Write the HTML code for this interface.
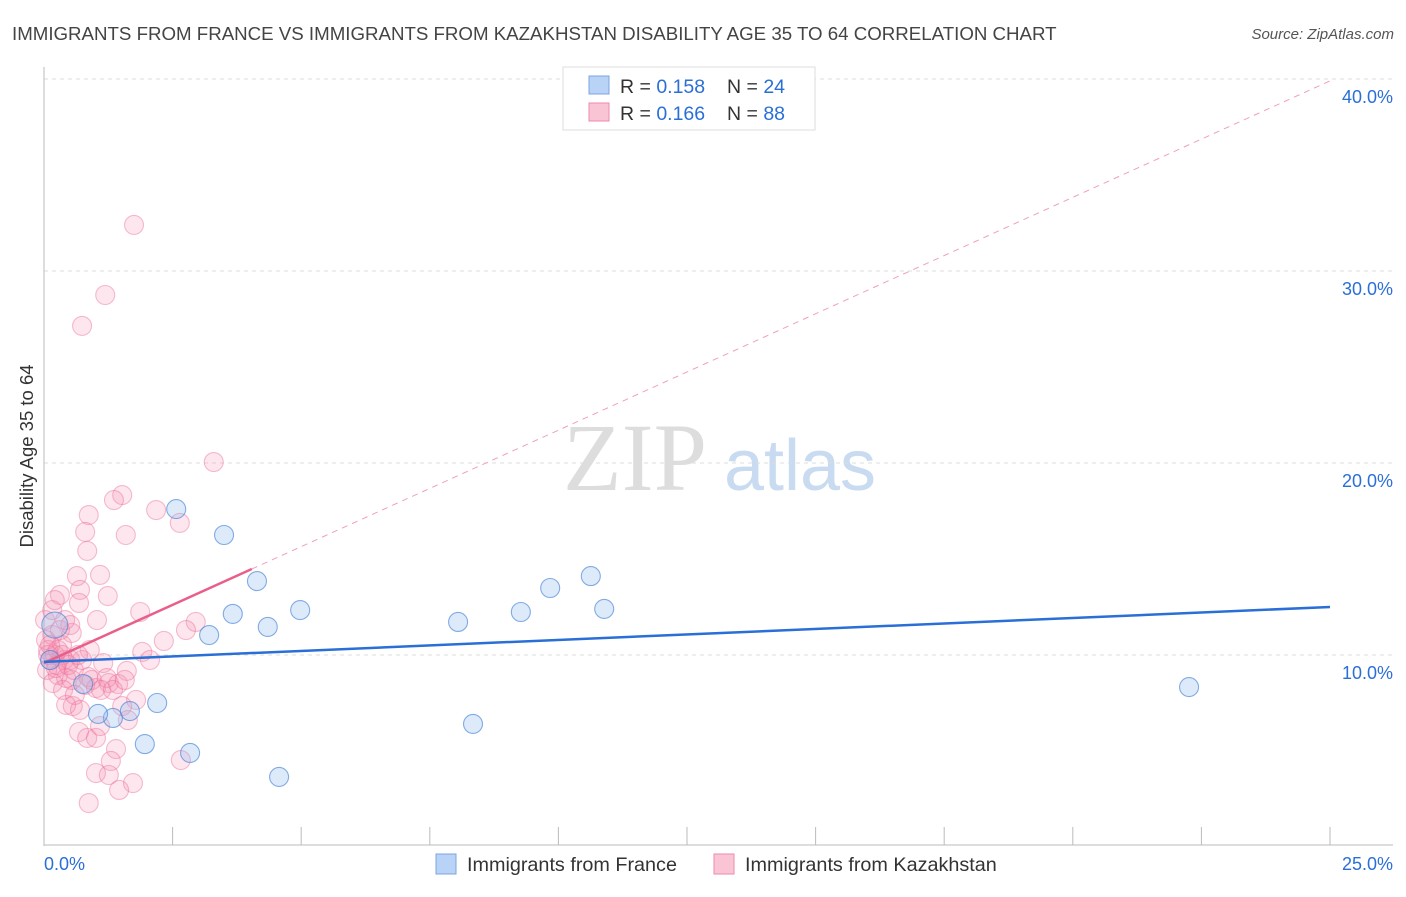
<!DOCTYPE html>
<html><head><meta charset="utf-8"><style>
body{margin:0;background:#fff;font-family:"Liberation Sans",sans-serif}
</style></head><body>
<svg id="chart" width="1406" height="892" xmlns="http://www.w3.org/2000/svg" style="font-family:'Liberation Sans',sans-serif">
<text x="12" y="40" font-size="18.7" fill="#444">IMMIGRANTS FROM FRANCE VS IMMIGRANTS FROM KAZAKHSTAN DISABILITY AGE 35 TO 64 CORRELATION CHART</text>
<text x="1394" y="39" font-size="15" fill="#555" font-style="italic" text-anchor="end">Source: ZipAtlas.com</text>
<g>
<text x="635" y="490" font-size="96" fill="#ddd" font-family="Liberation Serif" text-anchor="middle">ZIP</text>
<text x="800" y="490" font-size="72" fill="#c9dbf0" text-anchor="middle">atlas</text>
</g>
<g id="grid"></g>
<g id="axes"></g>
<g id="marks"></g>
<text transform="translate(33,456) rotate(-90)" font-size="18.5" fill="#333" text-anchor="middle">Disability Age 35 to 64</text>
<g>
<rect x="563" y="67" width="252" height="63" fill="#fff" stroke="#ddd"/>
<rect x="589" y="76" width="20" height="18" fill="#b8d3f5" stroke="#7aa6e0"/>
<rect x="589" y="103" width="20" height="18" fill="#f9c4d4" stroke="#ee8aab"/>
<text x="620" y="93" font-size="19.5" fill="#333">R = <tspan fill="#2a6fd6">0.158</tspan></text>
<text x="727" y="93" font-size="19.5" fill="#333">N = <tspan fill="#2a6fd6">24</tspan></text>
<text x="620" y="120" font-size="19.5" fill="#333">R = <tspan fill="#2a6fd6">0.166</tspan></text>
<text x="727" y="120" font-size="19.5" fill="#333">N = <tspan fill="#2a6fd6">88</tspan></text>
</g>
<g>
<rect x="436" y="854" width="20" height="20" fill="#b8d3f5" stroke="#7aa6e0"/>
<text x="467" y="871" font-size="19.8" fill="#333">Immigrants from France</text>
<rect x="714" y="854" width="20" height="20" fill="#f9c4d4" stroke="#ee8aab"/>
<text x="745" y="871" font-size="19.8" fill="#333">Immigrants from Kazakhstan</text>
</g>
</svg>
<script>
const xTicks=[0,2.5,5,7.5,10,12.5,15,17.5,20,22.5,25];
const yTicks=[10,20,30,40];
const yTickLabels=["10.0%","20.0%","30.0%","40.0%"];
const xEndLabels=["0.0%","25.0%"];
const franceX=[2.57,3.50,4.14,3.67,4.35,4.98,3.21,0.76,1.34,1.05,1.67,2.20,1.96,2.84,4.57,8.34,8.05,9.27,9.84,10.63,10.89,22.26,0.21,0.12];
const franceY=[17.6,16.25,13.85,12.14,11.46,12.34,11.04,8.49,6.72,6.93,7.08,7.5,5.36,4.9,3.65,6.41,11.72,12.24,13.49,14.11,12.40,8.33,11.56,9.74];
const kazX=[1.75,1.19,0.74,3.30,1.52,1.36,2.18,2.64,0.87,1.59,0.80,0.84,0.64,1.09,0.31,0.70,1.24,0.68,1.87,1.03,2.95,2.76,2.33,0.16,0.54,0.35,0.89,1.91,0.25,0.39,0.51,0.08,0.12,0.21,1.15,1.61,0.27,0.43,0.54,0.86,1.01,1.26,1.22,1.44,1.79,1.52,0.56,0.70,0.43,0.68,0.84,1.01,1.09,1.63,1.40,1.30,1.01,1.26,1.73,1.46,0.87,2.66,0.02,0.04,0.12,0.27,0.35,0.47,0.58,0.80,0.93,1.11,0.16,0.31,0.06,0.17,0.37,0.60,0.74,1.34,1.57,2.06,0.21,0.41,0.51,0.08,0.23,0.66];
const kazY=[32.4,28.75,27.14,20.05,18.33,18.07,17.55,16.88,17.29,16.25,16.41,15.42,14.11,14.17,13.13,13.39,13.07,12.71,12.24,11.82,11.72,11.30,10.73,11.04,11.15,10.52,10.26,10.16,9.48,9.74,9.74,10.26,9.74,10.0,9.58,9.17,8.96,8.80,8.70,8.85,8.28,8.54,8.80,8.49,7.66,7.34,7.34,7.14,7.40,5.99,5.68,5.68,6.30,6.61,5.10,4.48,3.85,3.75,3.33,2.97,2.29,4.53,11.82,10.78,10.52,10.26,10.0,9.48,9.22,8.44,8.70,8.18,12.34,11.30,9.22,8.54,8.18,7.92,9.74,8.18,8.70,9.74,12.86,11.82,11.56,10.0,9.32,10.0];
const franceTrend=[9.64,12.5];
const kazTrend=[9.58,39.9];
const kazSolidEnd=4.04;
const NS="http://www.w3.org/2000/svg";
const X=v=>44+v*51.44, Y=v=>847-v*19.2;
function mk(p,t,a){const e=document.createElementNS(NS,t);for(const k in a)e.setAttribute(k,a[k]);document.getElementById(p).appendChild(e);return e;}
yTicks.forEach((t,i)=>{
 const g=mk('grid','line',{x1:44,x2:1393,y1:Y(t),y2:Y(t),stroke:'#ddd','stroke-dasharray':'4,4'});
 
 
 const l=mk('axes','text',{x:1393,y:Y(t)+24,'font-size':18,fill:'#2a6fd6','text-anchor':'end'});
 l.textContent=yTickLabels[i];
 
 
});
const ya=mk('axes','line',{x1:44,x2:44,y1:67,y2:846,stroke:'#bbb'});


const xa=mk('axes','line',{x1:44,x2:1393,y1:845,y2:845,stroke:'#bbb'});


xTicks.forEach(t=>{
 const k=mk('axes','line',{x1:X(t),x2:X(t),y1:827,y2:845,stroke:'#bbb'});
 
 
});
const l0=mk('axes','text',{x:44,y:870,'font-size':18,fill:'#2a6fd6'});l0.textContent=xEndLabels[0];


const l1=mk('axes','text',{x:1393,y:870,'font-size':18,fill:'#2a6fd6','text-anchor':'end'});l1.textContent=xEndLabels[1];


kazX.forEach((x,i)=>{
 const c=mk('marks','circle',{cx:X(x),cy:Y(kazY[i]),r:9.5,fill:'rgba(244,143,177,0.22)',stroke:'rgba(236,110,150,0.45)','stroke-width':1.1});
 
 
});
franceX.forEach((x,i)=>{
 const c=mk('marks','circle',{cx:X(x),cy:Y(franceY[i]),r:i==22?13:9.5,fill:'rgba(150,190,240,0.32)',stroke:'rgba(70,130,215,0.65)','stroke-width':1.1});
 
 
});
const kt=v=>kazTrend[0]+(kazTrend[1]-kazTrend[0])*v/25;
const kd=mk('marks','line',{x1:X(kazSolidEnd),y1:Y(kt(kazSolidEnd)),x2:X(25),y2:Y(kazTrend[1]),stroke:'#f0a0b8','stroke-dasharray':'6,5','stroke-width':1});


const ks=mk('marks','line',{x1:X(0),y1:Y(kazTrend[0]),x2:X(kazSolidEnd),y2:Y(kt(kazSolidEnd)),stroke:'#e8608a','stroke-width':2.5});


const ft=mk('marks','line',{x1:X(0),y1:Y(franceTrend[0]),x2:X(25),y2:Y(franceTrend[1]),stroke:'#2a6fd6','stroke-width':2.5});


</script>
</body></html>
